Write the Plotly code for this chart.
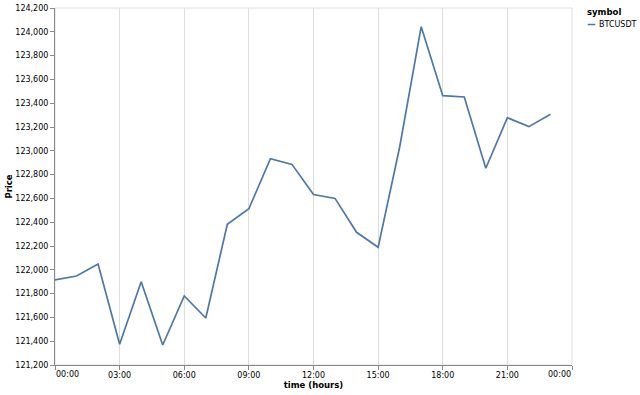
import pandas as pd
import plotly.graph_objects as go

# ---- data ----
day = "2025-10-06"
hours = list(range(24))
prices = [121915, 121948, 122049, 121374, 121900, 121368, 121780, 121595,
          122382, 122513, 122934, 122886, 122632, 122600, 122315, 122189,
          123032, 124043, 123463, 123452, 122853, 123278, 123203, 123307]
symbol = "BTCUSDT"
y_ticks = list(range(121200, 124201, 200))
x_tick_hours = [0, 3, 6, 9, 12, 15, 18, 21, 24]

start = pd.Timestamp(day)
times = [start + pd.Timedelta(hours=h) for h in hours]
x_tickvals = [start + pd.Timedelta(hours=h) for h in x_tick_hours]
x_ticktext = [(start + pd.Timedelta(hours=h)).strftime("%H:%M") for h in x_tick_hours]
inner_text = [""] + x_ticktext[1:-1] + [""]

FONT = "DejaVu Sans"
LINE = "#4c78a8"
LBL = 8
TTL = 8.5

fig = go.Figure()
fig.add_trace(go.Scatter(x=times, y=prices, mode="lines", name=symbol,
                         line=dict(color=LINE, width=1.7), showlegend=False))

fig.update_layout(
    width=640, height=395,
    margin=dict(l=55, r=68, t=8, b=30, autoexpand=False),
    paper_bgcolor="white", plot_bgcolor="white",
    font=dict(family=FONT, size=LBL, color="black"),
    xaxis=dict(
        type="date", range=[x_tickvals[0], x_tickvals[-1]],
        tickmode="array", tickvals=x_tickvals, ticktext=inner_text,
        showgrid=True, gridcolor="#dddddd", gridwidth=1,
        showline=True, linecolor="#888888", linewidth=1,
        ticks="outside", ticklen=4, tickcolor="#888888",
        ticklabelstandoff=-2,
        tickfont=dict(family=FONT, size=LBL, color="black"),
        title=dict(text="time (hours)", font=dict(family=FONT, size=TTL, weight="bold"), standoff=2),
        zeroline=False, automargin=False,
    ),
    yaxis=dict(
        range=[y_ticks[0], y_ticks[-1]],
        tickmode="array", tickvals=y_ticks, tickformat=",",
        showgrid=False,
        showline=True, linecolor="#888888", linewidth=1,
        ticks="outside", ticklen=4, tickcolor="#888888",
        tickfont=dict(family=FONT, size=LBL, color="black"),
        title=dict(text="Price", font=dict(family=FONT, size=TTL, weight="bold"), standoff=1),
        zeroline=False, automargin=False,
    ),
)

# view border
fig.add_shape(type="rect", xref="paper", yref="paper", x0=0, y0=0, x1=1, y1=1,
              line=dict(color="#dddddd", width=1), layer="below")

# flush first/last tick labels
for xv, txt, anchor in [(x_tickvals[0], x_ticktext[0], "left"),
                        (x_tickvals[-1], x_ticktext[-1], "right")]:
    fig.add_annotation(x=xv, xref="x", y=0, yref="paper", text=txt,
                       showarrow=False, xanchor=anchor, yanchor="top", yshift=-4,
                       borderpad=0, font=dict(family=FONT, size=LBL, color="black"))

# legend
fig.add_annotation(x=1.0271, xref="paper", y=(365 - 12) / 357, yref="paper",
                   text="<b>symbol</b>", showarrow=False, xanchor="left",
                   yanchor="middle", borderpad=0,
                   font=dict(family=FONT, size=TTL, color="black"))
fig.add_shape(type="line", xref="paper", yref="paper", x0=1.0304, x1=1.0451,
              y0=(365 - 24.5) / 357, y1=(365 - 24.5) / 357,
              line=dict(color=LINE, width=1.5))
fig.add_annotation(x=1.0509, xref="paper", y=(365 - 24.5) / 357, yref="paper",
                   text=symbol, showarrow=False, xanchor="left", yanchor="middle",
                   borderpad=0, font=dict(family=FONT, size=LBL, color="black"))

fig.write_html("out.html")
